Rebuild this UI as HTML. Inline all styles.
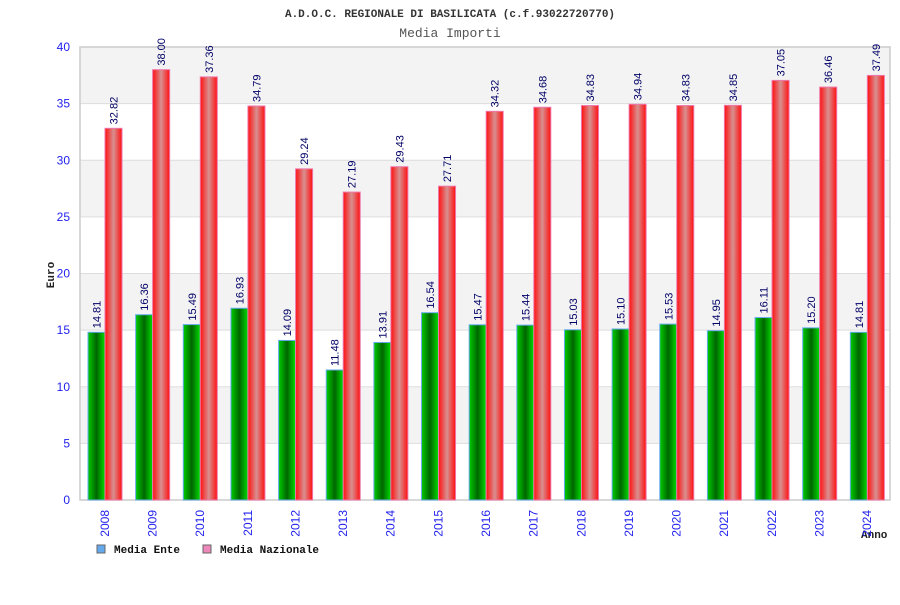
<!DOCTYPE html>
<html><head><meta charset="utf-8"><style>
body{margin:0;background:#fff;width:900px;height:600px;overflow:hidden}
svg{font-family:"Liberation Sans",sans-serif}
.mono{font-family:"Liberation Mono",monospace}
</style></head><body>
<svg id="c" width="900" height="600" xmlns="http://www.w3.org/2000/svg">
<defs>
<linearGradient id="gG" x1="0" x2="1"><stop offset="0" stop-color="#00cc00"/><stop offset="0.5" stop-color="#006600"/><stop offset="1" stop-color="#00dd00"/></linearGradient>
<linearGradient id="gR" x1="0" x2="1"><stop offset="0" stop-color="#ff1010"/><stop offset="0.5" stop-color="#d89090"/><stop offset="1" stop-color="#ff1010"/></linearGradient>
</defs>
<text class="mono" x="450" y="17" text-anchor="middle" font-size="11" font-weight="bold" fill="#333">A.D.O.C. REGIONALE DI BASILICATA (c.f.93022720770)</text>
<text class="mono" x="450" y="37" text-anchor="middle" font-size="13" fill="#555">Media Importi</text>
<text class="mono" transform="translate(54,275) rotate(-90)" text-anchor="middle" font-size="11" font-weight="bold" fill="#222">Euro</text>
<text class="mono" x="861" y="538" font-size="11" font-weight="bold" fill="#222">Anno</text>
<g id="grid"></g><g id="bars"></g><g id="labels"></g>
<rect x="97" y="545" width="8" height="8" fill="#66aaee" stroke="#666"/>
<text class="mono" x="114" y="553" font-size="11" font-weight="bold" fill="#111">Media Ente</text>
<rect x="203" y="545" width="8" height="8" fill="#ee88bb" stroke="#666"/>
<text class="mono" x="220" y="553" font-size="11" font-weight="bold" fill="#111">Media Nazionale</text>
</svg>
<script>
const years=["2008","2009","2010","2011","2012","2013","2014","2015","2016","2017","2018","2019","2020","2021","2022","2023","2024"];
const mediaEnte=[14.81,16.36,15.49,16.93,14.09,11.48,13.91,16.54,15.47,15.44,15.03,15.10,15.53,14.95,16.11,15.20,14.81];
const mediaNazionale=[32.82,38.00,37.36,34.79,29.24,27.19,29.43,27.71,34.32,34.68,34.83,34.94,34.83,34.85,37.05,36.46,37.49];
const yTicks=[0,5,10,15,20,25,30,35,40];
const NS="http://www.w3.org/2000/svg";
const L=80,R=890,T=47,B=500,yMax=40;
const y=v=>B-(v/yMax)*(B-T);
const gw=(R-L)/years.length;
const x=i=>L+i*gw;
function mk(tag,attrs,parent){const e=document.createElementNS(NS,tag);for(const k in attrs)e.setAttribute(k,attrs[k]);parent.appendChild(e);return e;}
const grid=document.getElementById('grid'),bars=document.getElementById('bars'),labs=document.getElementById('labels');
for(let i=0;i<yTicks.length-1;i++){
  const a=yTicks[i],b=yTicks[i+1];
  if(i%2===1){const r=mk('rect',{x:L,y:y(b),width:R-L,height:y(a)-y(b),fill:'#f3f3f3'},grid);
  
  }
}
yTicks.forEach(t=>{
  const ln=mk('line',{x1:L,x2:R,y1:y(t),y2:y(t),stroke:'#dddddd'},grid);
  
  
  const tx=mk('text',{x:70,y:y(t)+4,'text-anchor':'end','font-size':12,fill:'#2222ee'},grid);
  tx.textContent=t;
  
  
});
const ax=mk('path',{d:`M${L},${T}V${B}H${R}V${T}Z`,fill:'none',stroke:'#cccccc','stroke-width':1.5},grid);


const bw=17;
years.forEach((yr,i)=>{
  const gx=x(i)+8;
  const g=mk('rect',{x:gx,y:y(mediaEnte[i]),width:bw,height:B-y(mediaEnte[i]),fill:'url(#gG)',stroke:'#66aaee','stroke-width':1},bars);
  
  
  const r=mk('rect',{x:gx+bw,y:y(mediaNazionale[i]),width:bw,height:B-y(mediaNazionale[i]),fill:'url(#gR)',stroke:'#ee77aa','stroke-width':1},bars);
  
  
  const t1=mk('text',{transform:`translate(${gx+bw/2+4},${y(mediaEnte[i])-4}) rotate(-90)`,'font-size':11,fill:'#000066'},labs);
  t1.textContent=mediaEnte[i].toFixed(2);
  
  
  const t2=mk('text',{transform:`translate(${gx+bw*1.5+4},${y(mediaNazionale[i])-4}) rotate(-90)`,'font-size':11,fill:'#000066'},labs);
  t2.textContent=mediaNazionale[i].toFixed(2);
  
  
  const tx=mk('text',{transform:`translate(${x(i)+gw/2+5},510) rotate(-90)`,'text-anchor':'end','font-size':12,fill:'#2222ee'},labs);
  tx.textContent=yr;
  
  
});
</script>
</body></html>
